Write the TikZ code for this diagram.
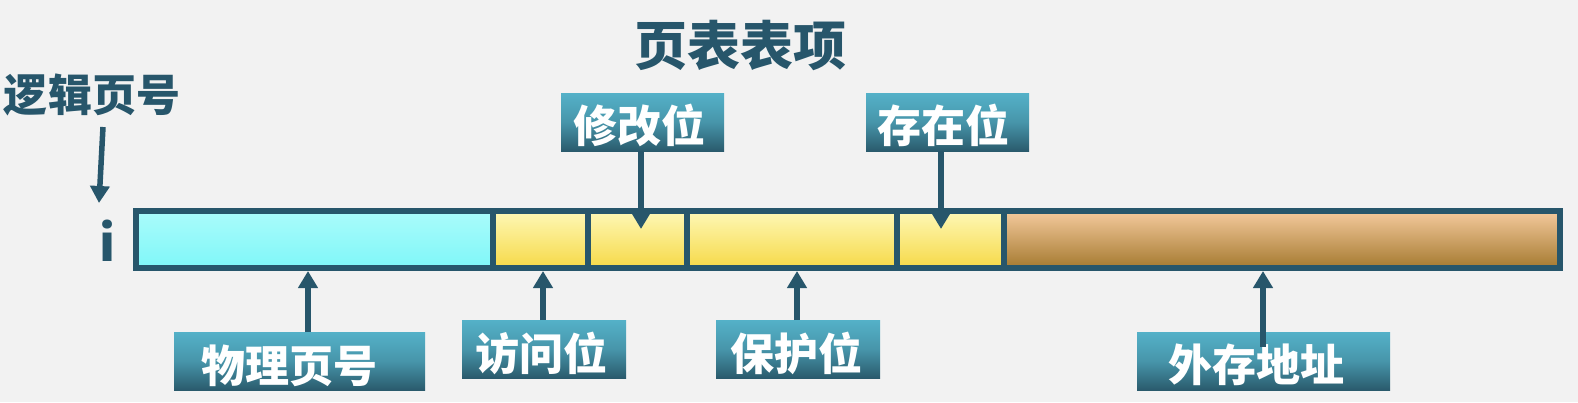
\documentclass[tikz,border=0pt]{standalone}
\usepackage{fontspec}
\setmainfont{Noto Sans CJK SC}
\usetikzlibrary{arrows.meta}
\definecolor{dk}{HTML}{27566B}
\definecolor{bg}{HTML}{F2F2F2}
\definecolor{lbtop}{HTML}{54B1C8}
\definecolor{lbmid}{HTML}{4795AA}
\definecolor{lbbot}{HTML}{2A5A6C}
\definecolor{cytop}{HTML}{AAFBFB}
\definecolor{cybot}{HTML}{7FF7F8}
\definecolor{yetop}{HTML}{FEF8B6}
\definecolor{yebot}{HTML}{F6D948}
\definecolor{brtop}{HTML}{F4CA9D}
\definecolor{brbot}{HTML}{A57A30}
\tikzset{
  cell/.style={draw=dk, line width=6pt, inner sep=0pt, minimum height=57pt, anchor=north west},
  cyan/.style={cell, top color=cytop, bottom color=cybot},
  yel/.style={cell, top color=yetop, bottom color=yebot},
  brn/.style={cell, top color=brtop, bottom color=brbot},
  lab/.style={inner sep=0pt, minimum height=58pt, anchor=north west, top color=lbtop, bottom color=lbbot, middle color=lbmid},
  labtxt/.style={text=white, font=\bfseries\fontsize{44pt}{44pt}\selectfont, inner sep=0pt},
  dtxt/.style={text=dk, font=\bfseries\fontsize{44pt}{44pt}\selectfont, inner sep=0pt},
  arr/.style={draw=dk, line width=5.5pt, -{Triangle[width=19pt,length=17pt]}}
}
\begin{document}
\begin{tikzpicture}[x=1pt,y=-1pt]
\fill[bg] (0,0) rectangle (1578,402);
\useasboundingbox (0,0) rectangle (1578,402);
% cells
\node[cyan, minimum width=357pt] (c1) at (133,208) {};
\node[yel, minimum width=95pt] (c2) at (490,208) {};
\node[yel, minimum width=99pt] (c3) at (585,208) {};
\node[yel, minimum width=210pt] (c4) at (684,208) {};
\node[yel, minimum width=107pt] (c5) at (894,208) {};
\node[brn, minimum width=556pt] (c6) at (1001,208) {};
% title and side texts
\node[dtxt, font=\bfseries\fontsize{53pt}{53pt}\selectfont] (title) at (740,45) {页表表项};
\node[dtxt] (lpn) at (92,95) {逻辑页号};
\node[dtxt, font=\bfseries\fontsize{50pt}{50pt}\selectfont] (i) at (108,241) {i};
% label boxes
\node[lab, minimum width=163pt] (mod) at (561,93) {};
\node[labtxt] (modt) at (639,125) {修改位};
\node[lab, minimum width=163pt] (pre) at (866,93) {};
\node[labtxt] (pret) at (943,125) {存在位};
\node[lab, minimum width=251pt] (phy) at (174,332) {};
\node[labtxt] (phyt) at (289,366) {物理页号};
\node[lab, minimum width=164pt] (acc) at (462,320) {};
\node[labtxt] (acct) at (541,353) {访问位};
\node[lab, minimum width=164pt] (pro) at (716,320) {};
\node[labtxt] (prot) at (796,353) {保护位};
\node[lab, minimum width=253pt] (ext) at (1137,332) {};
\node[labtxt] (extt) at (1256,365) {外存地址};
% arrows
\coordinate (lpnS) at (103,127);
\coordinate (lpnE) at (99,203);
\draw[arr] (lpnS) -- (lpnE);
\coordinate (modE) at (641,229);
\draw[arr] (mod.south -| modE) -- (modE);
\coordinate (preE) at (941,229);
\draw[arr] (pre.south -| preE) -- (preE);
\coordinate (phyX) at (308,0);
\draw[arr] (phy.north -| phyX) -- (c1.south -| phyX);
\coordinate (accX) at (543,0);
\draw[arr] (acc.north -| accX) -- (c2.south -| accX);
\coordinate (proX) at (797,0);
\draw[arr] (pro.north -| proX) -- (c4.south -| proX);
\coordinate (extS) at (1263,347);
\draw[arr] (extS) -- (c6.south -| extS);
\end{tikzpicture}
\end{document}
